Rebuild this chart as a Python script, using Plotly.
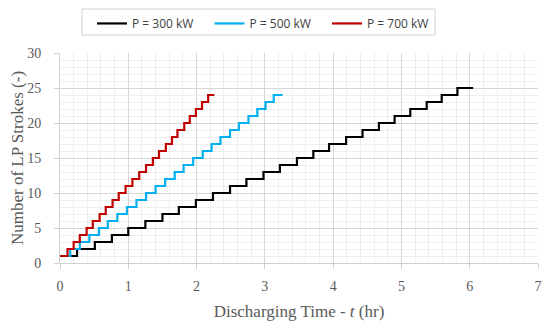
import plotly.graph_objects as go

# Rise times (hr) at which each series steps up by one stroke
t_300 = [0.0, 0.25, 0.51, 0.76, 1.00, 1.25, 1.50, 1.74, 1.99, 2.24, 2.49, 2.73, 2.98,
         3.22, 3.47, 3.71, 3.94, 4.19, 4.43, 4.67, 4.90, 5.13, 5.37, 5.59, 5.82, 6.05]
n_300 = [1, 2, 3, 4, 5, 6, 7, 8, 9, 10, 11, 12, 13, 14, 15, 16, 17, 18, 19, 20,
         21, 22, 23, 24, 25, 25]

t_500 = [0.0, 0.15, 0.29, 0.43, 0.57, 0.70, 0.84, 0.98, 1.12, 1.26, 1.40, 1.54, 1.68,
         1.81, 1.95, 2.09, 2.22, 2.35, 2.49, 2.62, 2.76, 2.89, 3.01, 3.13, 3.26]
n_500 = [1, 2, 3, 4, 5, 6, 7, 8, 9, 10, 11, 12, 13, 14, 15, 16, 17, 18, 19, 20,
         21, 22, 23, 24, 24]

t_700 = [0.0, 0.11, 0.20, 0.29, 0.39, 0.48, 0.58, 0.67, 0.77, 0.86, 0.96, 1.06, 1.16,
         1.26, 1.36, 1.45, 1.55, 1.64, 1.72, 1.82, 1.90, 1.99, 2.08, 2.17, 2.26]
n_700 = [1, 2, 3, 4, 5, 6, 7, 8, 9, 10, 11, 12, 13, 14, 15, 16, 17, 18, 19, 20,
         21, 22, 23, 24, 24]

series_names = ["P = 300 kW", "P = 500 kW", "P = 700 kW"]
series_colors = ["#000000", "#00B0F0", "#C00000"]

fig = go.Figure()
for t, n, name, col in zip([t_300, t_500, t_700], [n_300, n_500, n_700],
                           series_names, series_colors):
    fig.add_trace(go.Scatter(x=t, y=n, mode="lines", name=name, line_shape="hv",
                             line=dict(color=col, width=2.2)))

serif = "Liberation Serif"
axis_common = dict(
    showline=True, linecolor="#d0d0d0", linewidth=1,
    ticks="outside", ticklen=5, tickcolor="#d0d0d0",
    gridcolor="#d6d6d6", gridwidth=1, zeroline=False,
    tickfont=dict(family=serif, size=14, color="#595959"),
)

fig.update_layout(
    width=542, height=316,
    margin=dict(l=52, r=12, t=45, b=61, autoexpand=False),
    plot_bgcolor="white", paper_bgcolor="white",
    showlegend=True,
    legend=dict(orientation="h", xref="container", yref="container",
                x=0.155, y=0.997, xanchor="left", yanchor="top",
                bgcolor="rgba(0,0,0,0)", borderwidth=0,
                entrywidth=72.5, itemwidth=30,
                font=dict(family="Open Sans", size=12, color="#404040")),
    # legend frame, wider than the legend's own box
    shapes=[dict(type="rect", xref="paper", yref="paper",
                 x0=0.046, x1=0.7845, y0=1.0857, y1=1.2095,
                 line=dict(color="#d0d0d0", width=1), fillcolor="rgba(0,0,0,0)")],
    xaxis=dict(range=[0, 7], dtick=1,
               minor=dict(dtick=0.2, showgrid=True, gridcolor="#efefef"),
               ticklabelstandoff=5,
               title=dict(text="Discharging Time - <i>t</i> (hr)",
                          font=dict(family=serif, size=17, color="#595959"), standoff=12),
               **axis_common),
    yaxis=dict(range=[0, 30], dtick=5,
               minor=dict(dtick=1, showgrid=True, gridcolor="#efefef"),
               ticklabelstandoff=10,
               title=dict(text="Number of LP Strokes (-)",
                          font=dict(family=serif, size=17, color="#595959"), standoff=1),
               **axis_common),
)

fig.write_html("out.html")
